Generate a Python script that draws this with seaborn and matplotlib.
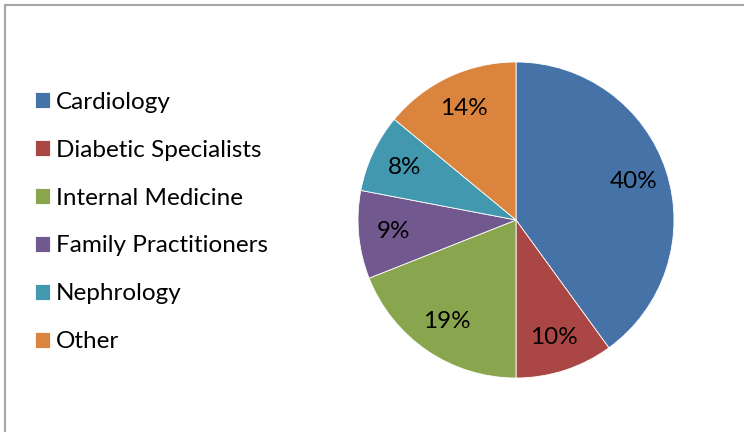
import matplotlib
matplotlib.use("Agg")
import matplotlib.pyplot as plt
from matplotlib.patches import Rectangle
import seaborn as sns

# data
specialties = ["Cardiology", "Diabetic Specialists", "Internal Medicine",
               "Family Practitioners", "Nephrology", "Other"]
shares = [40, 10, 19, 9, 8, 14]
slice_colors = ["#4572A7", "#AA4643", "#89A54E", "#71588F", "#4198AF", "#DB843D"]

sns.set_style("white")
plt.rcParams["font.family"] = ["Lato", "DejaVu Sans"]
palette = sns.color_palette(slice_colors)

W, H = 744, 432
fig = plt.figure(figsize=(W / 100, H / 100), dpi=100)
ax = fig.add_axes([0, 0, 1, 1])
ax.set_xlim(0, W)
ax.set_ylim(0, H)
ax.axis("off")

wedges, texts, autotexts = ax.pie(
    shares, colors=palette, center=(516, H - 220), radius=158,
    startangle=90, counterclock=False,
    autopct="%1.0f%%", pctdistance=0.78,
    wedgeprops=dict(edgecolor="white", linewidth=0.6),
    textprops=dict(fontsize=17.5, color="black"),
)
ax.set_xlim(0, W)
ax.set_ylim(0, H)
ax.set_aspect("auto")

# chart-area border (cut off at right and bottom, like the source)
ax.add_patch(Rectangle((5, -20), W + 20, H - 5 + 20, fill=False,
                       edgecolor="#A6A6A6", linewidth=1.5))

leg = ax.legend(wedges, specialties, loc="center left",
                bbox_to_anchor=(35, H - 222), bbox_transform=ax.transData,
                frameon=False, fontsize=17.5, borderpad=0, borderaxespad=0,
                handlelength=0.62, handleheight=0.62, handletextpad=0.25,
                labelspacing=1.11)
for t in leg.get_texts():
    t.set_color("black")

fig.savefig("out.png", dpi=100)
